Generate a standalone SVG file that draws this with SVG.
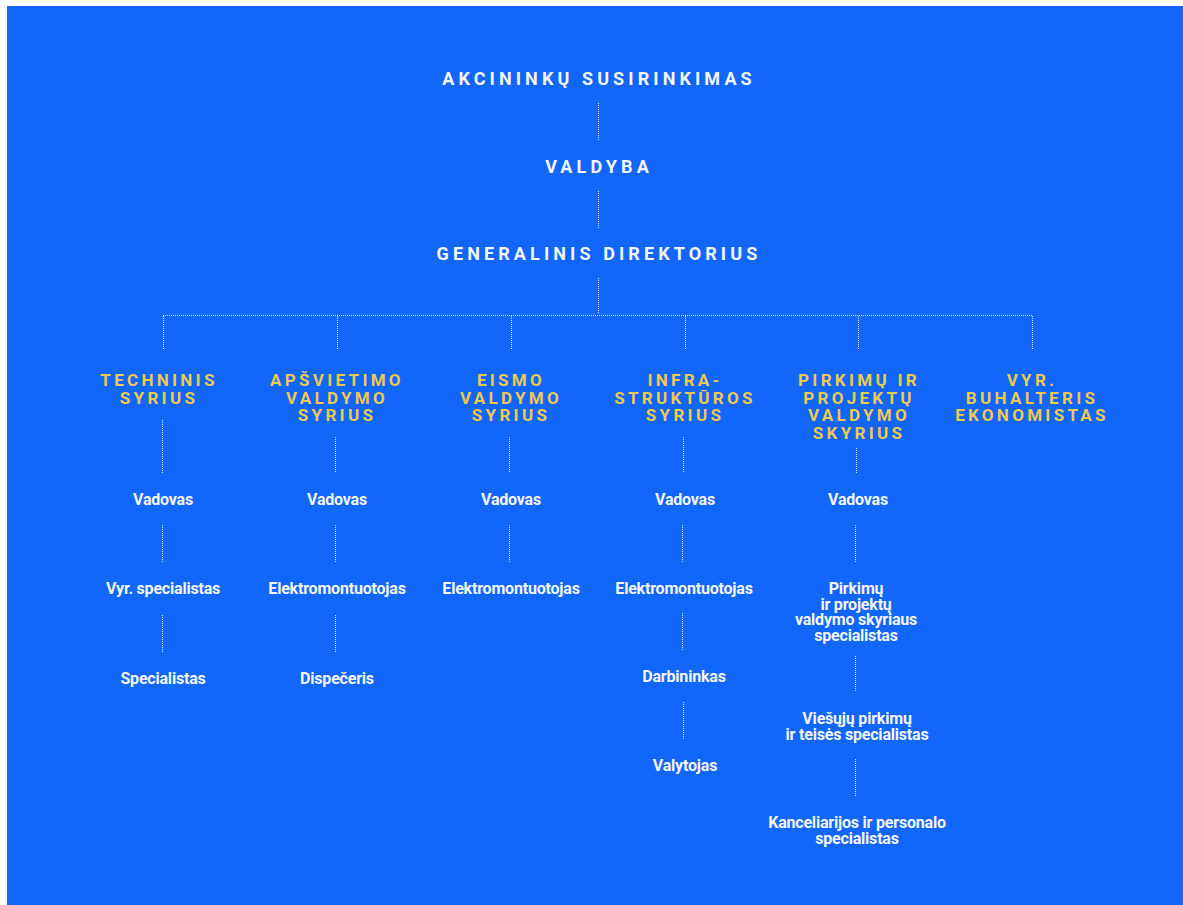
<svg xmlns="http://www.w3.org/2000/svg" width="1183" height="905" viewBox="0 0 1183 905">
<style>
.top{font-family:Roboto,"Liberation Sans",sans-serif;font-weight:700;font-size:18px;letter-spacing:4.1px;fill:#f4f6fb;text-anchor:middle}
.dept{font-family:Roboto,"Liberation Sans",sans-serif;font-weight:700;font-size:17px;letter-spacing:3.3px;fill:#eec94b;text-anchor:middle}
.item{font-family:Roboto,"Liberation Sans",sans-serif;font-weight:700;font-size:16px;letter-spacing:-0.2px;fill:#f4f6fb;text-anchor:middle}
.c{stroke:#ffffff;stroke-width:1;stroke-dasharray:1 1;stroke-opacity:0.85;fill:none}
</style>
<rect x="0" y="0" width="1183" height="905" fill="#ffffff"/>
<rect x="7" y="6" width="1176" height="899" fill="#1266f9"/>
<g id="connectors">
<path class="c" d="M598.5 103V140M598.5 191V228M598.5 278V314"/>
<path class="c" d="M163 315.5H1032"/>
<path class="c" d="M163.5 316V350M337.5 316V350M511.5 316V350M685.5 316V350M858.5 316V350M1032.5 316V350"/>
<path class="c" d="M162.5 420V473M162.5 525V562M162.5 615V652"/>
<path class="c" d="M335.5 437V473M335.5 525V562M335.5 615V652"/>
<path class="c" d="M509.5 437V473M509.5 525V562"/>
<path class="c" d="M683.5 437V473M682.5 525V562M682.5 613V650M683.5 702V739"/>
<path class="c" d="M856.5 448V473M855.5 525V562M855.5 656V692M855.5 759V797"/>
</g>
<g id="n-akcininku"><text class="top" x="599" y="85">AKCININKŲ SUSIRINKIMAS</text></g>
<g id="n-valdyba"><text class="top" x="599" y="173">VALDYBA</text></g>
<g id="n-gendir"><text class="top" x="599" y="260">GENERALINIS DIREKTORIUS</text></g>
<g id="d-techninis"><text class="dept" x="159" y="386">TECHNINIS<tspan x="159" dy="17.5">SYRIUS</tspan></text></g>
<g id="d-apsvietimo"><text class="dept" x="337" y="386">APŠVIETIMO<tspan x="337" dy="17.5">VALDYMO</tspan><tspan x="337" dy="17.5">SYRIUS</tspan></text></g>
<g id="d-eismo"><text class="dept" x="511" y="386">EISMO<tspan x="511" dy="17.5">VALDYMO</tspan><tspan x="511" dy="17.5">SYRIUS</tspan></text></g>
<g id="d-infra"><text class="dept" x="685" y="386">INFRA-<tspan x="685" dy="17.5">STRUKTŪROS</tspan><tspan x="685" dy="17.5">SYRIUS</tspan></text></g>
<g id="d-pirkimu"><text class="dept" x="859" y="386">PIRKIMŲ IR<tspan x="859" dy="17.5">PROJEKTŲ</tspan><tspan x="859" dy="17.5">VALDYMO</tspan><tspan x="859" dy="17.5">SKYRIUS</tspan></text></g>
<g id="d-vyr"><text class="dept" x="1032" y="386">VYR.<tspan x="1032" dy="17.5">BUHALTERIS</tspan><tspan x="1032" dy="17.5">EKONOMISTAS</tspan></text></g>
<g id="t-vadovas"><text class="item" x="163" y="505">Vadovas</text></g>
<g id="t-vyrspec"><text class="item" x="163" y="594">Vyr. specialistas</text></g>
<g id="t-spec"><text class="item" x="163" y="684">Specialistas</text></g>
<g id="a-vadovas"><text class="item" x="337" y="505">Vadovas</text></g>
<g id="a-elektro"><text class="item" x="337" y="594">Elektromontuotojas</text></g>
<g id="a-disp"><text class="item" x="337" y="684">Dispečeris</text></g>
<g id="e-vadovas"><text class="item" x="511" y="505">Vadovas</text></g>
<g id="e-elektro"><text class="item" x="511" y="594">Elektromontuotojas</text></g>
<g id="i-vadovas"><text class="item" x="685" y="505">Vadovas</text></g>
<g id="i-elektro"><text class="item" x="684" y="594">Elektromontuotojas</text></g>
<g id="i-darb"><text class="item" x="684" y="682">Darbininkas</text></g>
<g id="i-valyt"><text class="item" x="685" y="771">Valytojas</text></g>
<g id="p-vadovas"><text class="item" x="858" y="505">Vadovas</text></g>
<g id="p-spec"><text class="item" x="856" y="594">Pirkimų<tspan x="856" dy="15.7">ir projektų</tspan><tspan x="856" dy="15.7">valdymo skyriaus</tspan><tspan x="856" dy="15.7">specialistas</tspan></text></g>
<g id="p-viesuju"><text class="item" x="857" y="724">Viešųjų pirkimų<tspan x="857" dy="15.7">ir teisės specialistas</tspan></text></g>
<g id="p-kanc"><text class="item" x="857" y="828">Kanceliarijos ir personalo<tspan x="857" dy="15.7">specialistas</tspan></text></g>
</svg>
